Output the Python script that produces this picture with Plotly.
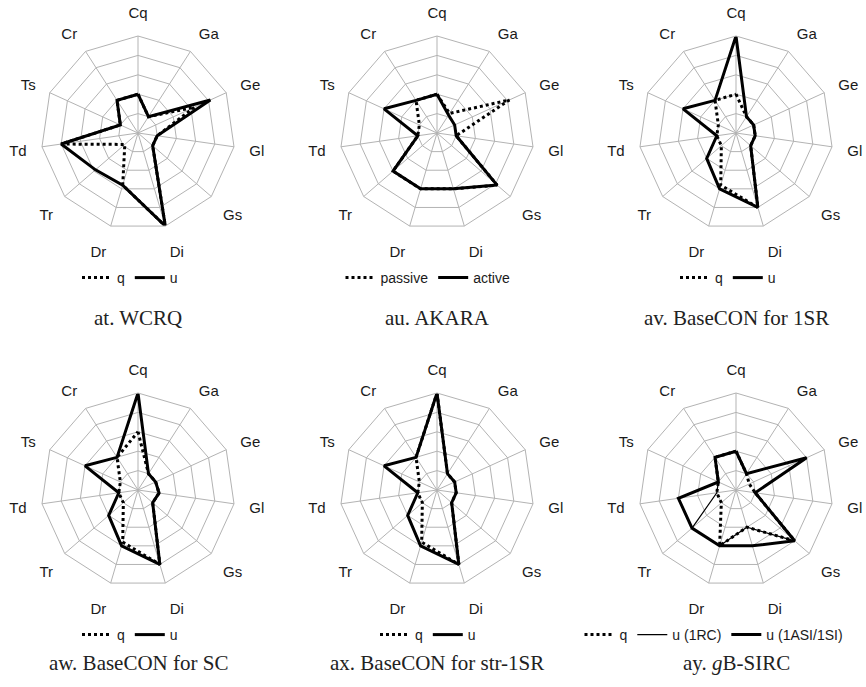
import plotly.graph_objects as go

# ---------------- data ----------------
axes_labels = ["Cq", "Ga", "Ge", "Gl", "Gs", "Di", "Dr", "Tr", "Td", "Ts", "Cr"]

titles = ["at. WCRQ", "au. AKARA", "av. BaseCON for 1SR",
          "aw. BaseCON for SC", "ax. BaseCON for str-1SR", "ay. <i>g</i>B-SIRC"]

# at. WCRQ
wcrq_q = [2.0, 1.0, 3.2, 1.0, 1.0, 5.0, 2.8, 0.9, 4.0, 1.0, 2.0]
wcrq_u = [2.0, 1.0, 4.1, 1.0, 1.0, 5.0, 2.8, 2.9, 4.0, 1.0, 2.0]
# au. AKARA
akara_passive = [2.0, 1.2, 4.1, 1.0, 4.1, 3.0, 3.0, 3.0, 1.0, 1.0, 2.0]
akara_active = [2.0, 1.1, 1.0, 1.0, 4.1, 3.0, 3.0, 3.0, 1.0, 3.0, 2.0]
# av. BaseCON for 1SR
b1sr_q = [2.0, 1.0, 1.0, 1.0, 1.0, 4.0, 2.8, 1.0, 1.0, 1.0, 2.0]
b1sr_u = [5.0, 1.0, 1.0, 1.0, 1.0, 4.0, 3.0, 2.0, 1.0, 3.0, 2.0]
# aw. BaseCON for SC
bsc_q = [3.0, 1.0, 1.0, 1.1, 1.0, 4.0, 2.8, 1.0, 1.0, 1.0, 2.0]
bsc_u = [5.0, 1.0, 1.0, 1.1, 1.0, 4.0, 3.0, 2.0, 1.0, 3.0, 2.0]
# ax. BaseCON for str-1SR
bstr_q = [5.0, 1.0, 1.0, 1.0, 1.0, 4.0, 2.8, 1.0, 1.0, 1.0, 2.0]
bstr_u = [5.0, 1.0, 1.0, 1.0, 1.0, 4.0, 3.0, 2.0, 1.0, 3.0, 2.0]
# ay. gB-SIRC
sirc_q = [2.0, 1.0, 0.75, 1.0, 4.0, 2.0, 3.0, 1.0, 1.0, 1.0, 2.0]
sirc_u_1rc = [2.0, 1.0, 4.0, 1.0, 4.0, 2.0, 3.0, 3.0, 1.0, 1.0, 2.0]
sirc_u_1asi = [2.0, 1.0, 4.0, 1.0, 4.0, 3.0, 3.0, 3.0, 3.0, 1.0, 2.0]

charts = [
    [("q", wcrq_q, "dot"), ("u", wcrq_u, "thick")],
    [("passive", akara_passive, "dot"), ("active", akara_active, "thick")],
    [("q", b1sr_q, "dot"), ("u", b1sr_u, "thick")],
    [("q", bsc_q, "dot"), ("u", bsc_u, "thick")],
    [("q", bstr_q, "dot"), ("u", bstr_u, "thick")],
    [("q", sirc_q, "dot"), ("u (1RC)", sirc_u_1rc, "thin"),
     ("u (1ASI/1SI)", sirc_u_1asi, "thick")],
]

# ---------------- layout (page pixel positions) ----------------
W, H = 866, 687
R = 97
centers = [(138, 133), (437, 133), (736, 133),
           (138, 490), (437, 490), (736, 490)]
legend_x_px = [130, 428, 728, 130, 428, 714]
legend_y_px = [278, 278, 278, 635, 635, 635]
title_y_px = [318, 318, 318, 663, 663, 663]


def fx(px):
    return px / W


def fy(py):
    return (H - py) / H


GRID = "#b3b3b3"
SANS = "Liberation Sans, Arial, sans-serif"
SERIF = "Liberation Serif, Times New Roman, serif"

styles = {
    "dot": dict(color="black", width=3, dash="dot"),
    "thick": dict(color="black", width=3, dash="solid"),
    "thin": dict(color="black", width=1.2, dash="solid"),
}

fig = go.Figure()
layout = dict(width=W, height=H,
              margin=dict(l=0, r=0, t=0, b=0, autoexpand=False),
              paper_bgcolor="white", plot_bgcolor="white",
              showlegend=True, annotations=[])

for i, (series, (cx, cy)) in enumerate(zip(charts, centers)):
    pname = "polar" if i == 0 else f"polar{i+1}"
    lname = "legend" if i == 0 else f"legend{i+1}"
    for name, vals, st in series:
        fig.add_trace(go.Scatterpolar(
            r=list(vals) + [vals[0]],
            theta=axes_labels + [axes_labels[0]],
            mode="lines", name=name, line=styles[st],
            subplot=pname, legend=lname, hoverinfo="skip"))
    layout[pname] = dict(
        domain=dict(x=[fx(cx - R), fx(cx + R)],
                    y=[fy(cy + R), fy(cy - R)]),
        bgcolor="white",
        gridshape="linear",
        radialaxis=dict(range=[0, 5], dtick=1, showticklabels=False,
                        ticks="", showline=False, gridcolor=GRID,
                        gridwidth=1),
        angularaxis=dict(categoryorder="array", categoryarray=axes_labels,
                         direction="clockwise", rotation=90,
                         gridcolor=GRID, gridwidth=1, linecolor=GRID,
                         linewidth=1, showline=True,
                         ticks="outside", ticklen=12,
                         tickcolor="rgba(0,0,0,0)",
                         tickfont=dict(family=SANS, size=15, color="#1a1a1a")),
    )
    layout[lname] = dict(orientation="h", x=fx(legend_x_px[i]), xanchor="center",
                         y=fy(legend_y_px[i]), yanchor="middle",
                         font=dict(family=SANS, size=14, color="#1a1a1a"),
                         bgcolor="rgba(0,0,0,0)", itemwidth=30,
                         tracegroupgap=0)
    layout["annotations"].append(dict(
        text=titles[i], x=fx(cx), y=fy(title_y_px[i]),
        xref="paper", yref="paper", xanchor="center", yanchor="middle",
        showarrow=False, font=dict(family=SERIF, size=21, color="#222222")))

fig.update_layout(**layout)
# remove the browser's default 8px body margin so the figure fills the window
fig.write_html("out.html",
               config={"displayModeBar": False},
               post_script="document.body.style.margin='0px';"
                           "document.body.style.overflow='hidden';")
